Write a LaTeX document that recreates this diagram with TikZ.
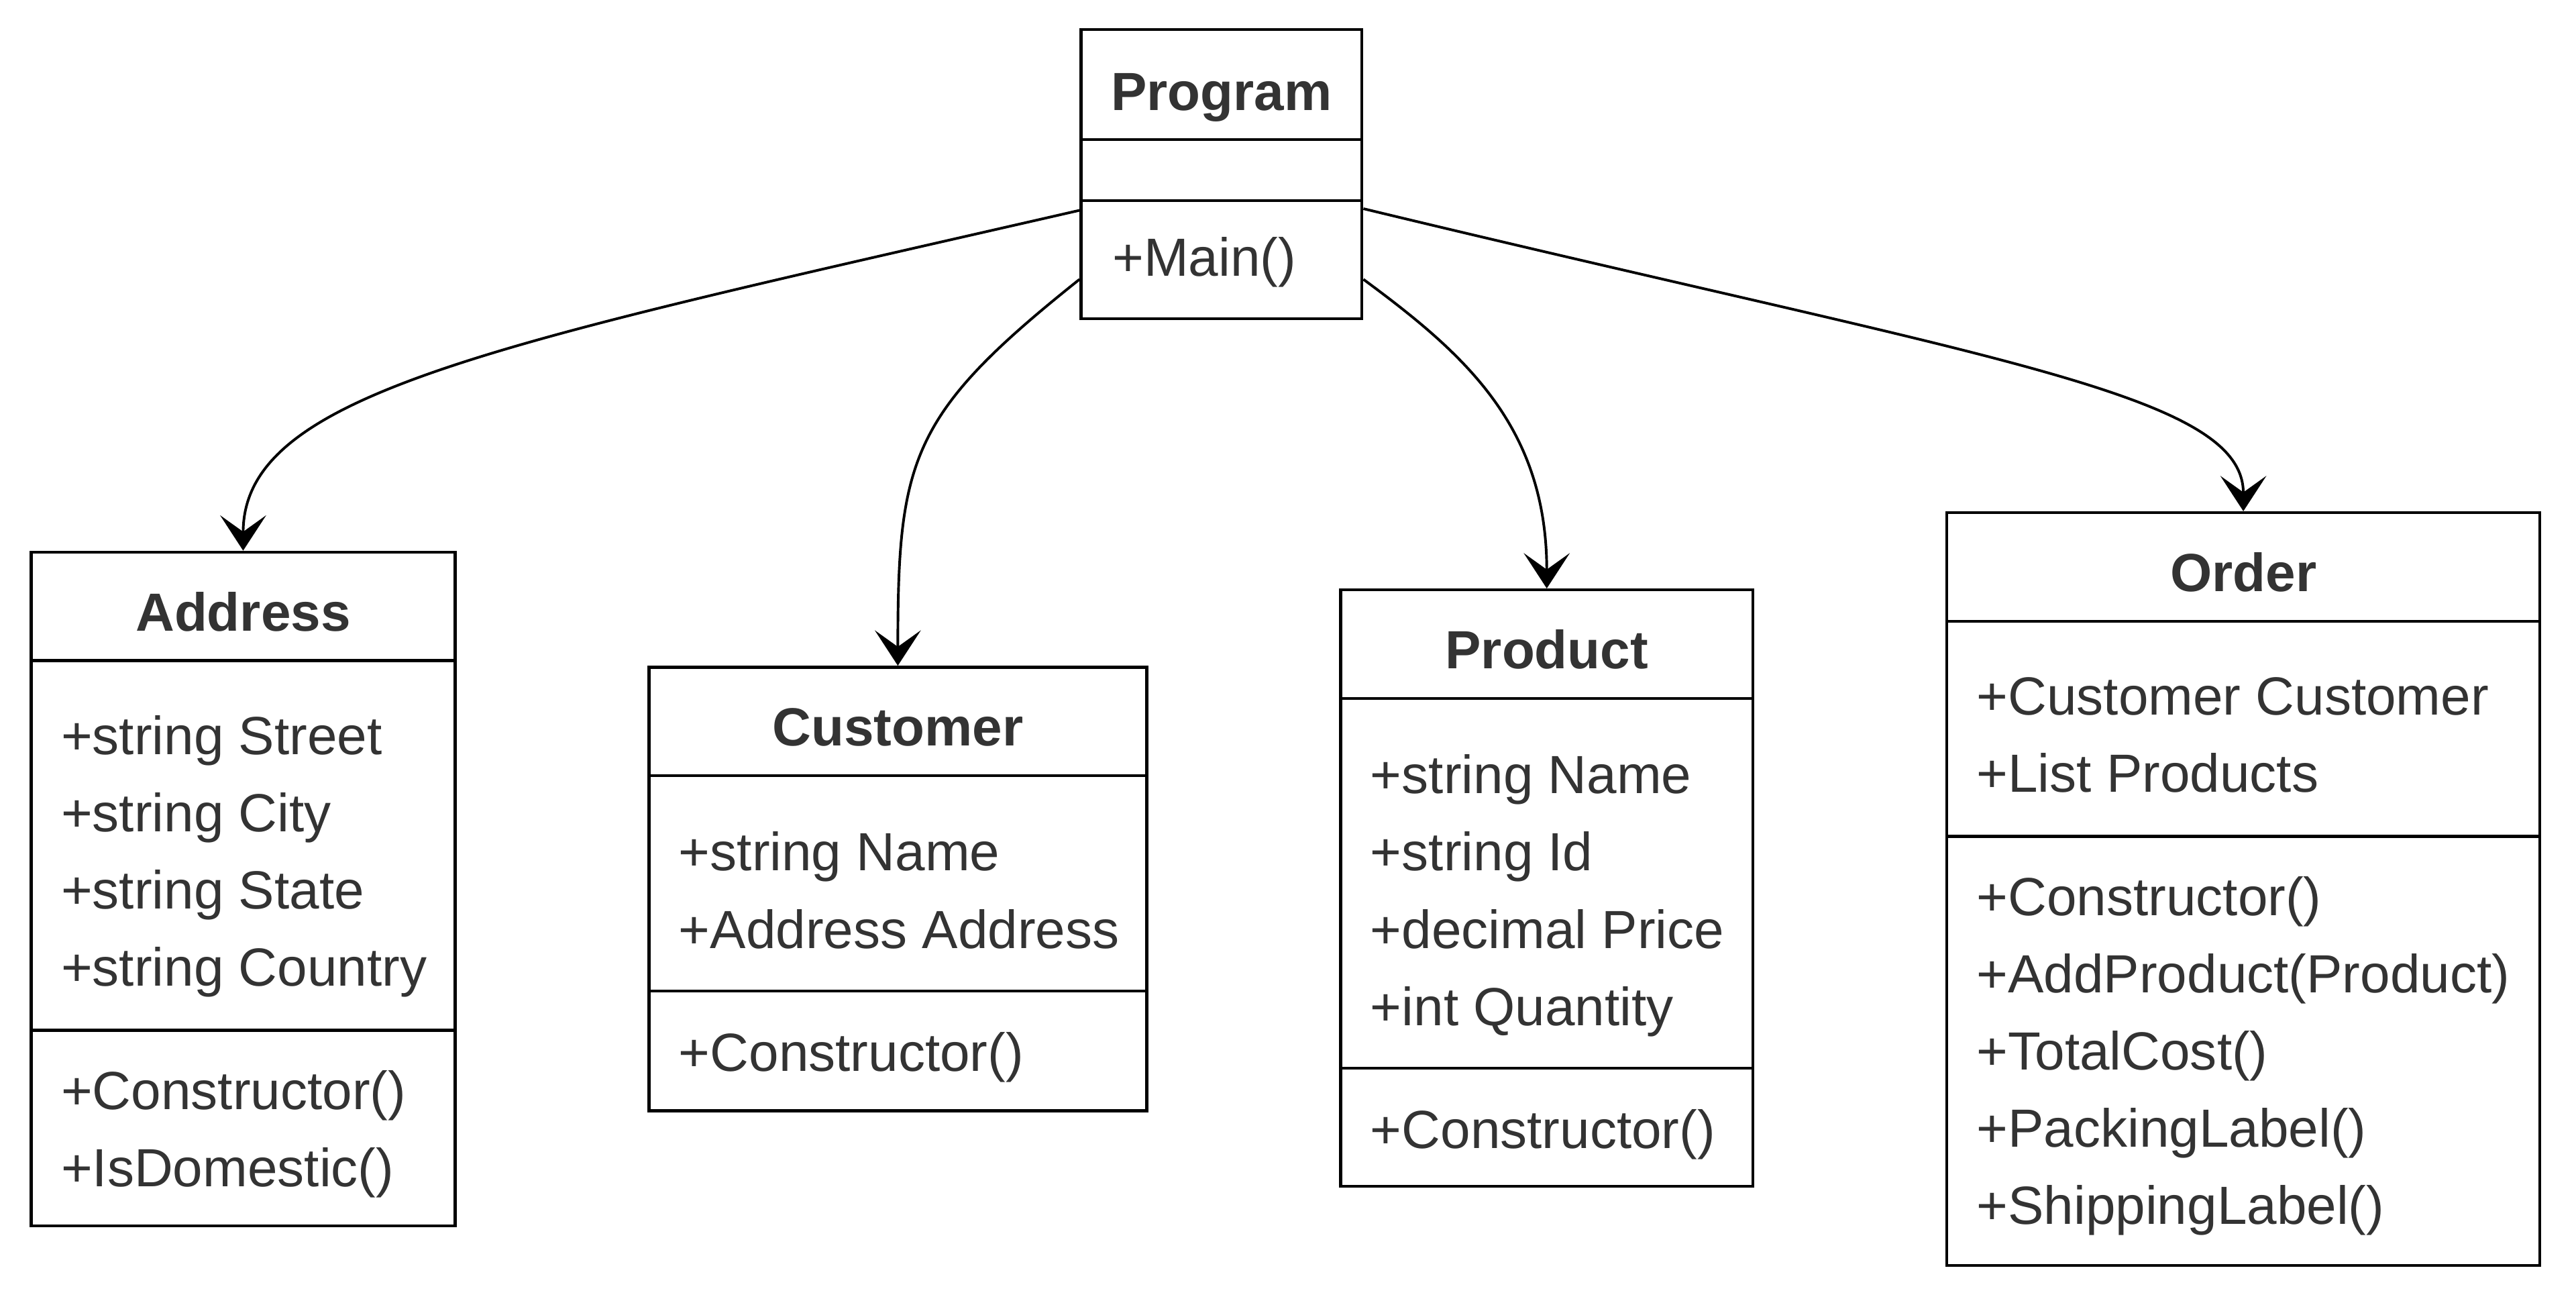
\documentclass[tikz,border=0pt]{standalone}
\usepackage{fontspec}
\setmainfont{Liberation Sans}
\usetikzlibrary{arrows.meta}
\definecolor{txt}{HTML}{333333}
\begin{document}
\begin{tikzpicture}[x=1pt,y=-1pt,
  classbox/.style={draw=black,line width=1.8pt,rectangle,inner sep=0pt,fill=white},
  divline/.style={draw=black,line width=1.8pt},
  ctitle/.style={anchor=base,inner sep=0pt,text=txt,font=\fontsize{32.7pt}{47pt}\selectfont\bfseries},
  citem/.style={anchor=base west,inner sep=0pt,text=txt,font=\fontsize{32.7pt}{47pt}\selectfont},
  conn/.style={draw=black,line width=1.6pt,-{Stealth[length=21.5pt,width=28pt,inset=10pt]}}
]
\fill[white] (0,0) rectangle (1568,790.5);
\useasboundingbox (0,0) rectangle (1568,790.5);

% Program
\node[classbox,minimum width=171pt,minimum height=176pt] (prog) at (743.5,106) {};
\draw[divline] (prog.west |- 0,85) -- (prog.east |- 0,85);
\draw[divline] (prog.west |- 0,122) -- (prog.east |- 0,122);
\node[ctitle] (progT) at (743.5,67) {Program};
\node[citem] (progM1) at (677,168) {+Main()};

% Address
\node[classbox,minimum width=258pt,minimum height=410pt] (addr) at (148,541) {};
\draw[divline] (addr.west |- 0,402) -- (addr.east |- 0,402);
\draw[divline] (addr.west |- 0,627) -- (addr.east |- 0,627);
\node[ctitle] (addrT) at (148,384) {Address};
\node[citem] (addrA1) at (37,459) {+string Street};
\node[citem] (addrA2) at (37,506) {+string City};
\node[citem] (addrA3) at (37,553) {+string State};
\node[citem] (addrA4) at (37,600) {+string Country};
\node[citem] (addrM1) at (37,675) {+Constructor()};
\node[citem] (addrM2) at (37,722) {+IsDomestic()};

% Customer
\node[classbox,minimum width=303pt,minimum height=270pt] (cust) at (546.5,541) {};
\draw[divline] (cust.west |- 0,472) -- (cust.east |- 0,472);
\draw[divline] (cust.west |- 0,603) -- (cust.east |- 0,603);
\node[ctitle] (custT) at (546.5,454) {Customer};
\node[citem] (custA1) at (413,530) {+string Name};
\node[citem] (custA2) at (413,577) {+Address Address};
\node[citem] (custM1) at (413,652) {+Constructor()};

% Product
\node[classbox,minimum width=251pt,minimum height=363pt] (prod) at (941.5,540.5) {};
\draw[divline] (prod.west |- 0,425) -- (prod.east |- 0,425);
\draw[divline] (prod.west |- 0,650) -- (prod.east |- 0,650);
\node[ctitle] (prodT) at (941.5,407) {Product};
\node[citem] (prodA1) at (834,483) {+string Name};
\node[citem] (prodA2) at (834,530) {+string Id};
\node[citem] (prodA3) at (834,577) {+decimal Price};
\node[citem] (prodA4) at (834,624) {+int Quantity};
\node[citem] (prodM1) at (834,699) {+Constructor()};

% Order
\node[classbox,minimum width=361pt,minimum height=458pt] (ord) at (1365.5,541) {};
\draw[divline] (ord.west |- 0,378) -- (ord.east |- 0,378);
\draw[divline] (ord.west |- 0,509) -- (ord.east |- 0,509);
\node[ctitle] (ordT) at (1365.5,360) {Order};
\node[citem] (ordA1) at (1203,435) {+Customer Customer};
\node[citem] (ordA2) at (1203,482) {+List Products};
\node[citem] (ordM1) at (1203,557) {+Constructor()};
\node[citem] (ordM2) at (1203,604) {+AddProduct(Product)};
\node[citem] (ordM3) at (1203,651) {+TotalCost()};
\node[citem] (ordM4) at (1203,698) {+PackingLabel()};
\node[citem] (ordM5) at (1203,745) {+ShippingLabel()};

% Connectors
\draw[conn] ([yshift=-22pt]prog.west) .. controls +(-358,82) and +(0,-96) .. (addr.north);
\draw[conn] ([yshift=-64pt]prog.west) .. controls +(-103,82) and +(0,-126) .. (cust.north);
\draw[conn] ([yshift=-64pt]prog.east) .. controls +(61,45) and +(0,-99) .. (prod.north);
\draw[conn] ([yshift=-21pt]prog.east) .. controls +(381,92) and +(0,-72) .. (ord.north);
\end{tikzpicture}
\end{document}
